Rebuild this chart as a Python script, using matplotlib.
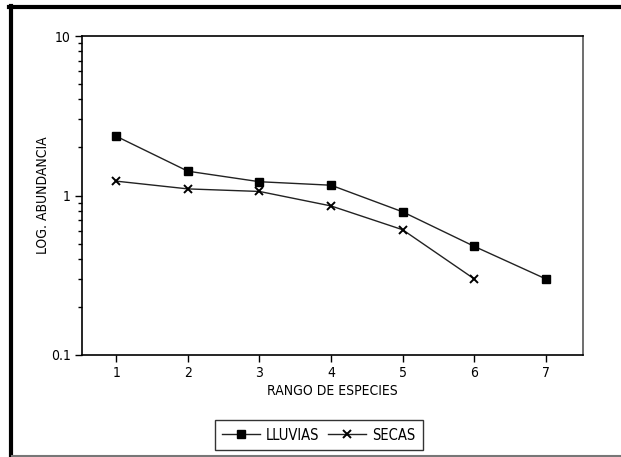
import numpy as np
import matplotlib
matplotlib.use('Agg')
import matplotlib.pyplot as plt
from matplotlib.lines import Line2D
from matplotlib.ticker import LogLocator, FixedLocator, NullFormatter

#-------------------------------------------------------------------------
rango = [1, 2, 3, 4, 5, 6, 7]
lluvias = [2.35, 1.42, 1.22, 1.16, 0.79, 0.48, 0.30]
rango_secas = [1, 2, 3, 4, 5, 6]
secas = [1.23, 1.10, 1.06, 0.86, 0.61, 0.30]
ytick_vals = [0.1, 1, 10]
ytick_labels = ['0.1', '1', '10']

plt.rcParams['font.family'] = ['DejaVu Sans']
plt.rcParams['font.stretch'] = 'condensed'

#-------------------------------------------------------------------------
fig = plt.figure(figsize=(6.21, 4.57), dpi=100)
ax = fig.add_axes([82/621, 1 - 355/457, (583 - 82)/621, (355 - 36)/457])

ax.plot(rango, lluvias, color='#222222', lw=1.0, marker='s', ms=5.5,
        mfc='black', mec='black', label='LLUVIAS')
ax.plot(rango_secas, secas, color='#222222', lw=1.0, marker='x', ms=6,
        mew=1.4, mec='black', label='SECAS')

ax.set_yscale('log')
ax.set_ylim(0.1, 10)
ax.set_xlim(0.52, 7.52)
ax.yaxis.set_major_locator(FixedLocator(ytick_vals))
ax.set_yticklabels(ytick_labels)
ax.yaxis.set_minor_locator(LogLocator(base=10, subs=np.arange(2, 10)))
ax.yaxis.set_minor_formatter(NullFormatter())
ax.set_xticks(rango)

ax.tick_params(axis='both', which='major', direction='out', length=5,
               width=1, labelsize=10, pad=3)
ax.tick_params(axis='y', which='minor', direction='out', length=3, width=1)
for s in ax.spines.values():
  s.set_linewidth(1.2)
ax.spines['right'].set_color('#555555')

ax.set_xlabel('RANGO DE ESPECIES', fontsize=10, labelpad=3)
ax.set_ylabel('LOG. ABUNDANCIA', fontsize=10, labelpad=1)

leg = fig.legend(loc='center', bbox_to_anchor=(319/621, 1 - 435/457),
                 ncol=2, frameon=True, fancybox=False, fontsize=10.5,
                 handlelength=2.6, handletextpad=0.4, columnspacing=0.6,
                 borderpad=0.5)
leg.get_frame().set_edgecolor('black')
leg.get_frame().set_linewidth(1.0)

# outer frame of the page
fig.add_artist(Line2D([10.5/621, 10.5/621], [1 - 6/457, 0], color='black', lw=3))
fig.add_artist(Line2D([9/621, 1], [1 - 6.5/457, 1 - 6.5/457], color='black', lw=3))
fig.add_artist(Line2D([12/621, 1], [1 - 455.5/457, 1 - 455.5/457], color='#777777', lw=1.5))

fig.savefig('out.png', dpi=100)
